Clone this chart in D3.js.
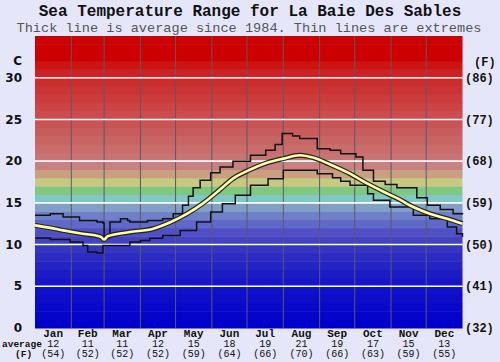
<!DOCTYPE html>
<html>
<head>
<meta charset="utf-8">
<script src="https://cdn.jsdelivr.net/npm/d3@7"></script>
<style>
  html, body { margin: 0; padding: 0; background: #e6e6fa; }
  svg { display: block; }
</style>
</head>
<body>
<svg id="chart" width="500" height="362"></svg>
<script>
// month names and the monthly averages shown under the chart
const months = ['Jan', 'Feb', 'Mar', 'Apr', 'May', 'Jun', 'Jul', 'Aug', 'Sep', 'Oct', 'Nov', 'Dec']
const monthDays = [31, 28, 31, 30, 31, 30, 31, 31, 30, 31, 30, 31]
const avgC = [12, 11, 11, 12, 15, 18, 19, 21, 19, 17, 15, 13]
const avgF = [54, 52, 52, 52, 59, 64, 66, 70, 66, 63, 59, 55]

const cTicks = [0, 5, 10, 15, 20, 25, 30]
const fTicks = ['(32)', '(41)', '(50)', '(59)', '(68)', '(77)', '(86)']

// day of year -> temperature C
const avgDays = [0, 13, 24, 38, 56, 59, 62, 81, 101, 116, 130, 144, 158, 169, 184, 198, 212, 226, 238, 252, 269, 284, 298, 310, 323, 337, 352, 365]
const avgTemp = [12.3, 12.0, 11.7, 11.35, 10.95, 10.6, 11.0, 11.5, 11.9, 12.7, 13.7, 15.0, 16.6, 17.9, 19.0, 19.8, 20.3, 20.7, 20.4, 19.6, 18.5, 17.3, 16.3, 15.5, 14.5, 13.7, 13.1, 12.5]

const maxDays = [0, 13, 24, 38, 53, 58, 59, 64, 73, 79, 81, 96, 109, 118, 126, 131, 135, 141, 150, 158, 169, 184, 197, 205, 211, 220, 226, 241, 252, 261, 274, 280, 289, 299, 309, 326, 335, 346, 357, 365]
const maxTemp = [13.5, 13.7, 13.3, 12.9, 12.7, 12.6, 10.8, 12.7, 13.1, 12.9, 12.7, 12.9, 13.1, 13.7, 14.7, 15.8, 16.8, 17.7, 18.6, 19.3, 20.0, 20.7, 21.3, 22.0, 23.3, 23.0, 22.7, 21.5, 21.3, 20.9, 20.5, 18.9, 17.6, 17.2, 16.8, 15.6, 14.7, 14.2, 13.7, 13.6]

const minDays = [0, 13, 30, 41, 45, 53, 58, 70, 81, 90, 98, 109, 124, 138, 150, 160, 171, 184, 199, 212, 226, 241, 254, 261, 269, 284, 289, 303, 323, 337, 352, 360, 365]
const minTemp = [10.8, 10.6, 10.3, 9.9, 9.1, 9.0, 9.9, 9.9, 10.3, 10.5, 10.75, 11.1, 11.7, 12.7, 13.9, 14.9, 15.9, 17.1, 17.9, 18.9, 18.9, 18.5, 18.0, 17.6, 17.1, 16.1, 15.3, 14.5, 13.5, 13.1, 12.1, 11.3, 10.9]

// one colour per degree band, 0C at the bottom
const bandColors = [
    '#0000cc', '#0404cb', '#0808ca', '#0c0cc9', '#1010c8',
    '#1616c6', '#1c1cc5', '#2424c4', '#2c2cc3', '#3535c2',
    '#4242c2', '#5050c4', '#6068c8', '#7080c8', '#80a0c8',
    '#80c8c8', '#80c880', '#c8c880', '#c8a080', '#c88080',
    '#c87474', '#c86c6c', '#c86464', '#c85c5c', '#c85454',
    '#cc4c4c', '#cc4444', '#cc3c3c', '#cc3434', '#cc2c2c',
    '#cc2222', '#cc1414', '#cc0000', '#cc0000', '#cc0000'
]

const svg = d3.select('#chart')
const mono = '"Liberation Mono", "Courier New", monospace'

const x = d3.scaleLinear().domain([0, 365]).range([35, 462.5])
const y = d3.scaleLinear().domain([0, 35]).range([328, 36])

// title
svg.append('text')
    .attr('x', 250).attr('y', 16)
    .attr('text-anchor', 'middle')
    .attr('font-family', mono).attr('font-size', 16).attr('font-weight', 'bold')
    .attr('fill', '#111')
    .text('Sea Temperature Range for La Baie Des Sables')

svg.append('text')
    .attr('x', 249).attr('y', 32)
    .attr('text-anchor', 'middle')
    .attr('font-family', mono).attr('font-size', 13.6)
    .attr('fill', '#555')
    .text('Thick line is average since 1984. Thin lines are extremes')

// background bands
svg.append('g')
    .selectAll('rect')
    .data(bandColors)
    .enter()
    .append('rect')
    .attr('x', x(0))
    .attr('width', x(365) - x(0))
    .attr('y', (d, i) => y(i + 1))
    .attr('height', (d, i) => y(i) - y(i + 1) + 0.5)
    .attr('fill', d => d)

// month boundaries
const bounds = d3.cumsum([0].concat(monthDays))
svg.append('g')
    .selectAll('line')
    .data(bounds.slice(1, 12))
    .enter()
    .append('line')
    .attr('x1', d => x(d)).attr('x2', d => x(d))
    .attr('y1', y(35)).attr('y2', y(0))
    .attr('stroke', '#5a5a6a')
    .attr('stroke-width', 1)

// white grid lines every 5C
svg.append('g')
    .selectAll('line')
    .data(cTicks.slice(1))
    .enter()
    .append('line')
    .attr('x1', x(0)).attr('x2', x(365))
    .attr('y1', d => y(d)).attr('y2', d => y(d))
    .attr('stroke', '#fff')
    .attr('stroke-width', 1.6)

// extremes
const pts = (days, temps) => days.map((d, i) => [d, temps[i]])
const stepLine = d3.line()
    .x(d => x(d[0])).y(d => y(d[1]))
    .curve(d3.curveStepAfter)

svg.append('path')
    .attr('d', stepLine(pts(maxDays, maxTemp)))
    .attr('fill', 'none').attr('stroke', '#111').attr('stroke-width', 1.5)

svg.append('path')
    .attr('d', stepLine(pts(minDays, minTemp)))
    .attr('fill', 'none').attr('stroke', '#111').attr('stroke-width', 1.5)

// average
const avgLine = d3.line()
    .x(d => x(d[0])).y(d => y(d[1]))
    .curve(d3.curveMonotoneX)

svg.append('path')
    .attr('d', avgLine(pts(avgDays, avgTemp)))
    .attr('fill', 'none').attr('stroke', '#222').attr('stroke-width', 5)

svg.append('path')
    .attr('d', avgLine(pts(avgDays, avgTemp)))
    .attr('fill', 'none').attr('stroke', '#ffffa8').attr('stroke-width', 2.6)

// left axis (C)
svg.append('text')
    .attr('x', 22).attr('y', 61).attr('dy', '0.35em')
    .attr('text-anchor', 'end')
    .attr('font-family', '"DejaVu Sans", sans-serif').attr('font-size', 12).attr('font-weight', 'bold')
    .attr('fill', '#111')
    .text('C')

svg.append('g')
    .selectAll('text')
    .data(cTicks)
    .enter()
    .append('text')
    .attr('x', 22).attr('y', d => y(d)).attr('dy', '0.35em')
    .attr('text-anchor', 'end')
    .attr('font-family', '"DejaVu Sans", sans-serif').attr('font-size', 12).attr('font-weight', 'bold')
    .attr('fill', '#111')
    .text(d => d)

// right axis (F)
svg.append('text')
    .attr('x', 474).attr('y', 62).attr('dy', '0.35em')
    .attr('font-family', mono).attr('font-size', 12).attr('font-weight', 'bold')
    .attr('fill', '#111')
    .text('(F)')

svg.append('g')
    .selectAll('text')
    .data(fTicks)
    .enter()
    .append('text')
    .attr('x', 465).attr('y', (d, i) => y(cTicks[i])).attr('dy', '0.35em')
    .attr('font-family', mono).attr('font-size', 12).attr('font-weight', 'bold')
    .attr('fill', '#111')
    .text(d => d)

// month labels and monthly averages
const mid = i => x((bounds[i] + bounds[i + 1]) / 2)
const foot = svg.append('g').attr('text-anchor', 'middle').attr('font-family', mono).attr('fill', '#111')

foot.selectAll('.mname')
    .data(months)
    .enter()
    .append('text')
    .attr('class', 'mname')
    .attr('x', (d, i) => mid(i)).attr('y', 336.5)
    .attr('font-size', 11).attr('font-weight', 'bold')
    .text(d => d)

foot.selectAll('.mc')
    .data(avgC)
    .enter()
    .append('text')
    .attr('class', 'mc')
    .attr('x', (d, i) => mid(i)).attr('y', 346.5)
    .attr('font-size', 10)
    .text(d => d)

foot.selectAll('.mf')
    .data(avgF)
    .enter()
    .append('text')
    .attr('class', 'mf')
    .attr('x', (d, i) => mid(i)).attr('y', 356.5)
    .attr('font-size', 10)
    .text(d => '(' + d + ')')

svg.append('text')
    .attr('x', 2).attr('y', 346.5)
    .attr('font-family', mono).attr('font-size', 9.5).attr('font-weight', 'bold')
    .attr('fill', '#111')
    .text('average')

svg.append('text')
    .attr('x', 15).attr('y', 356.5)
    .attr('font-family', mono).attr('font-size', 9.5).attr('font-weight', 'bold')
    .attr('fill', '#111')
    .text('(F)')
</script>
</body>
</html>
